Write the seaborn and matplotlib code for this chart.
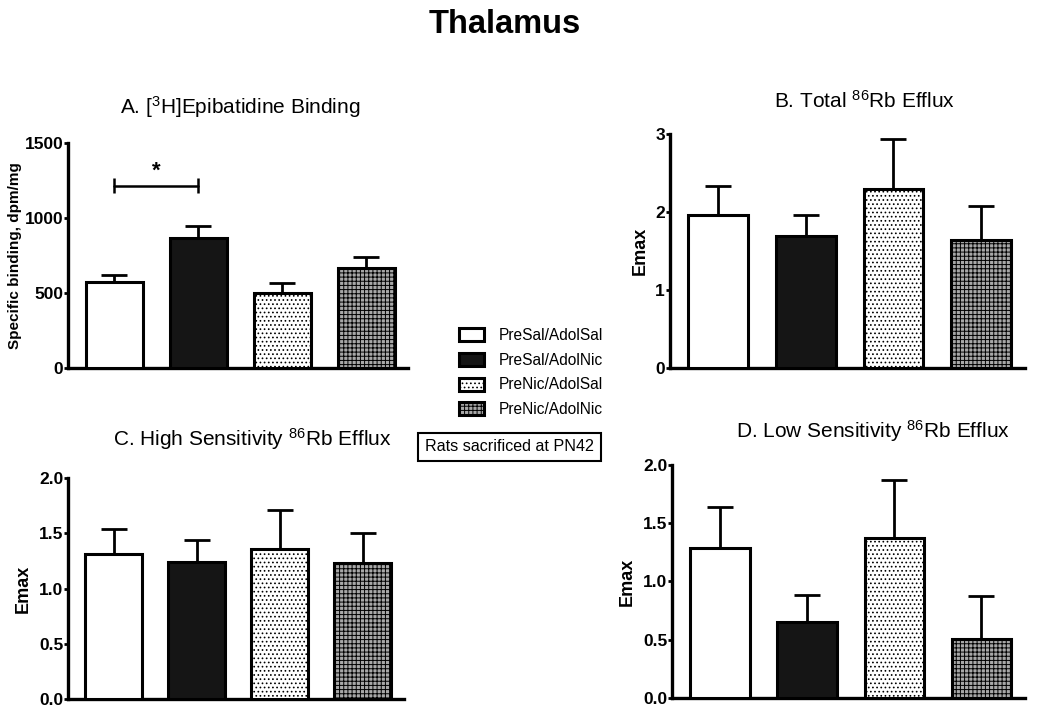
import matplotlib
matplotlib.use("Agg")
import matplotlib.pyplot as plt
import numpy as np
import pandas as pd
import seaborn as sns

groups = ["PreSal/AdolSal", "PreSal/AdolNic", "PreNic/AdolSal", "PreNic/AdolNic"]

# panel A: [3H]epibatidine binding, dpm/mg
binding_mean = [571, 864, 502, 665]
binding_sem = [49, 83, 67, 77]
# panel B: total 86Rb efflux
total_mean = [1.965, 1.70, 2.30, 1.645]
total_sem = [0.375, 0.265, 0.64, 0.435]
# panel C: high sensitivity 86Rb efflux
high_mean = [1.314, 1.236, 1.356, 1.233]
high_sem = [0.222, 0.202, 0.353, 0.265]
# panel D: low sensitivity 86Rb efflux
low_mean = [1.282, 0.655, 1.373, 0.504]
low_sem = [0.356, 0.228, 0.499, 0.373]

fills = ["white", "#151515", "white", "#a8a8a8"]
hatches = ["", "", "....", "++++"]

sns.set_theme(style="ticks")
plt.rcParams["font.family"] = ["Liberation Sans", "DejaVu Sans"]
plt.rcParams["mathtext.fontset"] = "custom"
plt.rcParams["mathtext.rm"] = "Liberation Sans"
plt.rcParams["mathtext.it"] = "Liberation Sans"
plt.rcParams["hatch.linewidth"] = 0.7
plt.rcParams["hatch.color"] = "black"
for k in ["text.color", "axes.labelcolor", "xtick.color", "ytick.color", "axes.edgecolor"]:
    plt.rcParams[k] = "black"


def panel(ax, means, sems, ylim, yticks, ylabel, ylabel_size=13, labelpad=5):
    df = pd.DataFrame({"group": groups, "value": means})
    sns.barplot(data=df, x="group", y="value", hue="group", palette=fills,
                order=groups, hue_order=groups, width=0.68, legend=False,
                edgecolor="black", linewidth=2.2, errorbar=None, ax=ax, zorder=3)
    xs = []
    for p, h in zip(ax.patches, hatches):
        p.set_hatch(h)
        xs.append(p.get_x() + p.get_width() / 2)
    ax.errorbar(xs, means, yerr=[np.zeros(len(sems)), sems], fmt="none",
                ecolor="black", elinewidth=2, capsize=9.5, capthick=2, zorder=2)
    ax.set_xlim(-0.55, 3.5)
    ax.set_ylim(*ylim)
    ax.set_yticks(yticks)
    ax.set_xticks([])
    ax.set_xlabel("")
    ax.set_ylabel(ylabel, fontsize=ylabel_size, fontweight="bold", labelpad=labelpad)
    for lab in ax.get_yticklabels():
        lab.set_fontweight("bold")
    ax.tick_params(axis="y", labelsize=12.5, width=2, length=3, pad=0.5)
    sns.despine(ax=ax)
    for s in ["left", "bottom"]:
        ax.spines[s].set_linewidth(2.4)


fig = plt.figure(figsize=(10.5, 7.17), dpi=100)
axA = fig.add_axes([0.0648, 0.4868, 0.324, 0.3138])
axB = fig.add_axes([0.638, 0.4863, 0.338, 0.3264])
axC = fig.add_axes([0.0648, 0.0247, 0.32, 0.309])
axD = fig.add_axes([0.640, 0.0261, 0.336, 0.326])

panel(axA, binding_mean, binding_sem, (0, 1500), [0, 500, 1000, 1500],
      "Specific binding, dpm/mg", 11, labelpad=2)
panel(axB, total_mean, total_sem, (0, 3), [0, 1, 2, 3], "Emax")
panel(axC, high_mean, high_sem, (0, 2), [0, 0.5, 1.0, 1.5, 2.0], "Emax")
panel(axD, low_mean, low_sem, (0, 2), [0, 0.5, 1.0, 1.5, 2.0], "Emax")
for ax in [axC, axD]:
    ax.set_yticklabels(["0.0", "0.5", "1.0", "1.5", "2.0"], fontweight="bold")

# significance bracket in panel A
axA.errorbar([0, 1], [1215, 1215], yerr=[[50, 50], [50, 50]], color="black",
             lw=1.8, fmt="none")
axA.plot([0, 1], [1215, 1215], color="black", lw=1.8)
axA.text(0.5, 1245, "*", ha="center", va="bottom", fontsize=16, fontweight="bold")

fig.text(0.481, 0.966, "Thalamus", ha="center", va="center", fontsize=23.5,
         fontweight="bold")
fig.text(0.229, 0.851, r"A. [$^{3}$H]Epibatidine Binding", ha="center", va="center", fontsize=15)
fig.text(0.823, 0.860, r"B. Total $^{86}$Rb Efflux", ha="center", va="center", fontsize=15)
fig.text(0.240, 0.388, r"C. High Sensitivity $^{86}$Rb Efflux", ha="center", va="center", fontsize=15)
fig.text(0.831, 0.399, r"D. Low Sensitivity $^{86}$Rb Efflux", ha="center", va="center", fontsize=15)

handles = axA.patches[:4]
fig.legend(handles, groups, loc="upper left", bbox_to_anchor=(0.431, 0.551),
           frameon=False, fontsize=11.2, handlelength=1.6, handleheight=0.9,
           handletextpad=1.0, labelspacing=0.62, borderaxespad=0)
fig.text(0.485, 0.3766, "Rats sacrificed at PN42", ha="center", va="center", fontsize=11.6,
         bbox=dict(boxstyle="square,pad=0.42", fc="white", ec="black", lw=1.5))

fig.savefig("out.png", dpi=100)
